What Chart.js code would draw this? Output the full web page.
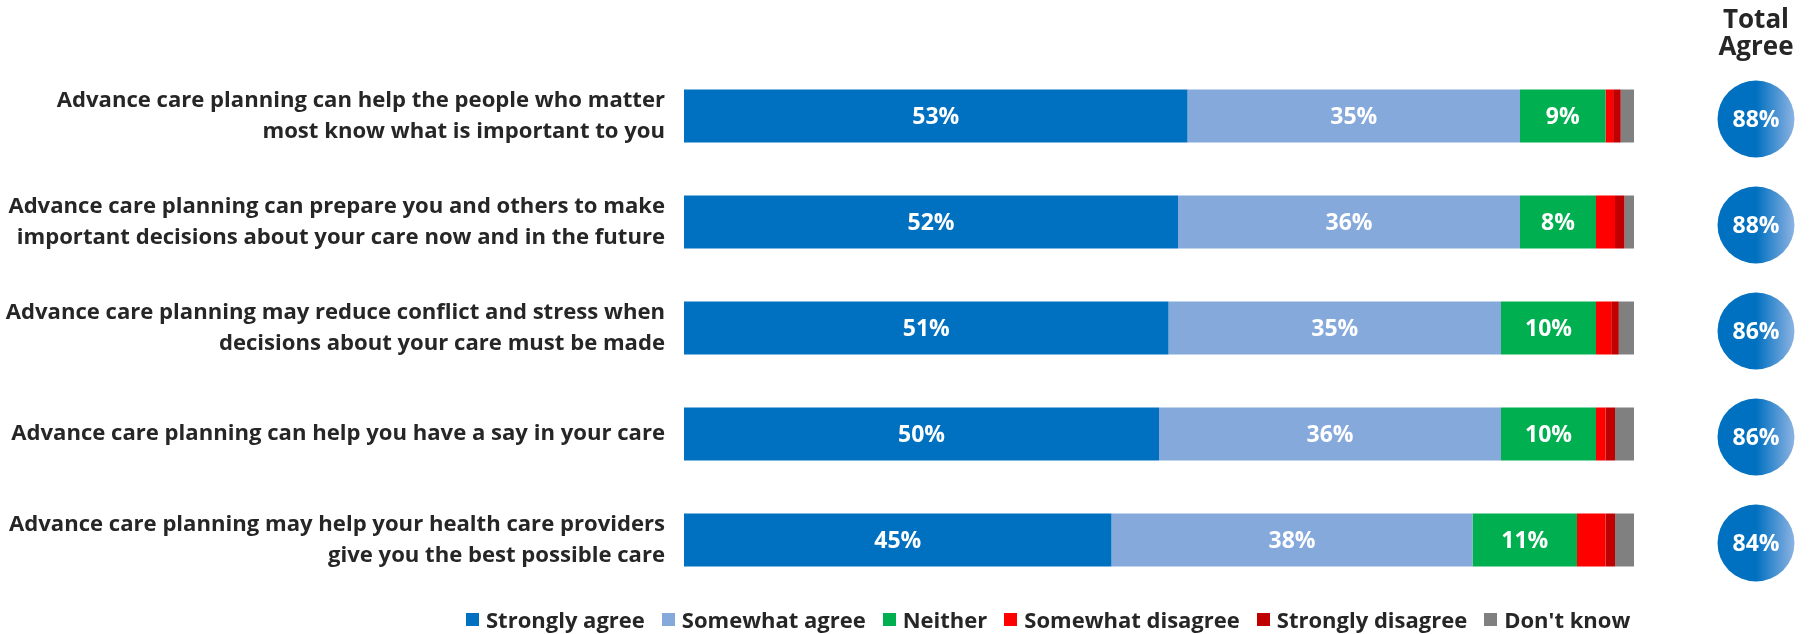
<!DOCTYPE html>
<html>
<head>
<meta charset="utf-8">
<script src="https://cdn.jsdelivr.net/npm/chart.js@4"></script>
<style>
  body { margin: 0; background: #fff; }
  #wrap { position: relative; width: 1812px; height: 634px; }
  #legend {
    position: absolute; left: 466px; top: 604px;
    display: flex; align-items: center;
    font: bold 22px "Open Sans", sans-serif; color: #262626; white-space: nowrap;
  }
  #legend .item { display: flex; align-items: center; margin-right: 17px; }
  #legend .box { width: 13px; height: 13px; margin-right: 7px; }
</style>
</head>
<body>
<div id="wrap">
  <canvas id="chart"></canvas>
  <div id="legend"></div>
</div>
<script>
// Statements (y axis), two lines where the label wraps
const categories = [
  ['Advance care planning can help the people who matter', 'most know what is important to you'],
  ['Advance care planning can prepare you and others to make', 'important decisions about your care now and in the future'],
  ['Advance care planning may reduce conflict and stress when', 'decisions about your care must be made'],
  ['Advance care planning can help you have a say in your care'],
  ['Advance care planning may help your health care providers', 'give you the best possible care']
];

// Share of respondents (%) per answer
const stronglyAgree    = [53, 52, 51, 50, 45];
const somewhatAgree    = [35, 36, 35, 36, 38];
const neither          = [9, 8, 10, 10, 11];
const somewhatDisagree = [0.8, 2, 1.6, 1, 3];
const stronglyDisagree = [0.8, 1, 0.8, 1, 1];
const dontKnow         = [1.4, 1, 1.6, 2, 2];

// Total agree (strongly + somewhat)
const totalAgree = [88, 88, 86, 86, 84];

const seriesNames  = ['Strongly agree', 'Somewhat agree', 'Neither', 'Somewhat disagree', 'Strongly disagree', "Don't know"];
const seriesColors = ['#0070C0', '#86A9DC', '#00B050', '#FF0000', '#C00000', '#808080'];
const seriesData   = [stronglyAgree, somewhatAgree, neither, somewhatDisagree, stronglyDisagree, dontKnow];

const datasets = seriesData.map((data, i) => ({
  label: seriesNames[i],
  data: data,
  backgroundColor: seriesColors[i],
  borderWidth: 0,
  barPercentage: 0.5,
  categoryPercentage: 1,
  showValue: i < 3
}));

// white percentage text in the middle of the big segments
const valueLabels = {
  id: 'valueLabels',
  afterDatasetsDraw(chart) {
    const ctx = chart.ctx;
    ctx.save();
    ctx.font = 'bold 23px "Open Sans", sans-serif';
    ctx.fillStyle = '#fff';
    ctx.textAlign = 'center';
    ctx.textBaseline = 'middle';
    chart.data.datasets.forEach((ds, di) => {
      if (!ds.showValue) return;
      chart.getDatasetMeta(di).data.forEach((bar, i) => {
        ctx.fillText(ds.data[i] + '%', (bar.x + bar.base) / 2, bar.y + 1);
      });
    });
    ctx.restore();
  }
};

// "Total Agree" column with the round badges
const totalBadges = {
  id: 'totalBadges',
  afterDraw(chart) {
    const ctx = chart.ctx;
    const yScale = chart.scales.y;
    const cx = chart.chartArea.right + 122;
    const r = 38.5;
    ctx.save();
    ctx.fillStyle = '#262626';
    ctx.textAlign = 'center';
    ctx.textBaseline = 'alphabetic';
    ctx.font = 'bold 26px "Open Sans", sans-serif';
    ctx.fillText('Total', cx, 28);
    ctx.fillText('Agree', cx, 55);

    totalAgree.forEach((v, i) => {
      const cy = yScale.getPixelForValue(i) + 3;
      const grad = ctx.createLinearGradient(cx - r, 0, cx + r, 0);
      grad.addColorStop(0, '#0070C0');
      grad.addColorStop(0.5, '#0070C0');
      grad.addColorStop(1, '#8DB3E2');
      ctx.beginPath();
      ctx.arc(cx, cy, r, 0, Math.PI * 2);
      ctx.fillStyle = grad;
      ctx.fill();
      ctx.fillStyle = '#fff';
      ctx.font = 'bold 23px "Open Sans", sans-serif';
      ctx.textBaseline = 'middle';
      ctx.fillText(v + '%', cx, cy + 1);
      ctx.textBaseline = 'alphabetic';
    });
    ctx.restore();
  }
};

new Chart(document.getElementById('chart'), {
  type: 'bar',
  data: { labels: categories, datasets: datasets },
  options: {
    indexAxis: 'y',
    responsive: true,
    maintainAspectRatio: false,
    animation: false,
    layout: { padding: { top: 63, bottom: 41, right: 178, left: 0 } },
    plugins: {
      legend: { display: false },
      tooltip: { enabled: false }
    },
    scales: {
      x: { stacked: true, min: 0, max: 100, display: false },
      y: {
        stacked: true,
        grid: { display: false, drawTicks: false },
        border: { display: false },
        ticks: {
          padding: 19,
          color: '#262626',
          font: { family: 'Open Sans', size: 22.1, weight: 'bold', lineHeight: 1.41 }
        },
        afterFit(axis) {
          // fixed label column; the outer labels sit well inside the bands
          axis.width = 684;
          axis.paddingTop = 0;
          axis.paddingBottom = 0;
        }
      }
    }
  },
  plugins: [valueLabels, totalBadges]
});

// legend row under the bars
const legendEl = document.getElementById('legend');
seriesNames.forEach((name, i) => {
  const item = document.createElement('div');
  item.className = 'item';
  const box = document.createElement('span');
  box.className = 'box';
  box.style.background = seriesColors[i];
  item.appendChild(box);
  item.appendChild(document.createTextNode(name));
  legendEl.appendChild(item);
});
</script>
</body>
</html>
